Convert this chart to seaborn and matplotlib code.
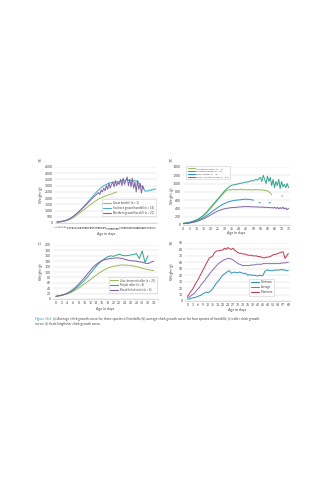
import numpy as np
import pandas as pd
import matplotlib
matplotlib.use("Agg")
import matplotlib.pyplot as plt
import seaborn as sns

sns.set_theme(style="white")
plt.rcParams['font.family'] = ['Lato', 'DejaVu Sans']

# ---------------- data ----------------
# (a) hornbills, days 1..77
a_days = list(range(1, 78))
a_great = [80, 90, 100, 110, 125, 140, 160, 185, 215, 250, 290, 340, 400, 460, 530, 610, 690, 770, 850, 930,
           1010, 1090, 1170, 1250, 1330, 1410, 1490, 1570, 1650, 1720, 1790, 1860, 1920, 1980, 2030, 2080, 2120,
           2160, 2200, 2240, 2270, 2300, 2340, 2380, 2420, 2450, 2490]
a_southern = [100, 110, 120, 135, 150, 170, 195, 225, 260, 300, 350, 410, 480, 560, 650, 740, 840, 940, 1040, 1150,
              1260, 1370, 1480, 1600, 1720, 1840, 1960, 2080, 2200, 2320, 2440, 2550, 2650, 2750, 2840, 2920, 2990,
              3050, 3100, 3150, 3200, 3230, 3250, 3280, 3300, 3290, 3320, 3300, 3360, 3340, 3420, 3460, 3400, 3450,
              3520, 3430, 3480, 3400, 3450, 3380, 3420, 3350, 3400, 3200, 3100, 2950, 2850, 2700, 2550, 2600, 2550,
              2650, 2600, 2700, 2650, 2750, 2700]
a_northern = [60, 70, 85, 100, 120, 145, 175, 210, 250, 300, 360, 420, 490, 570, 650, 740, 830, 920, 1010, 1110,
              1210, 1310, 1410, 1520, 1630, 1740, 1850, 1960, 2060, 2160, 2250, 2350, 2450, 2300, 2650, 2500, 2800,
              2600, 3000, 2700, 3200, 2800, 3100, 3300, 2900, 3400, 3000, 3300, 3100, 3500, 3000, 3600, 3100, 3400,
              3700, 3000, 3500, 2900, 3600, 2800, 3300, 2500, 3400, 2700, 3200, 2400, 3000, 2700]
a_labels = ["Great hornbill (n = 1)", "Southern ground hornbill (n = 14)", "Northern ground hornbill (n = 20)"]

# (b) four hornbill species, days 0..75 (nan = no data)
nan = np.nan
b_days = list(range(0, 76))
b_wreathed = [38, 42, 47, 52, 58, 65, 74, 84, 95, 108, 122, 140, 160, 182, 206, 234, 265, 300, 338, 378,
              418, 458, 498, 538, 578, 618, 658, 698, 738, 775, 805, 830, 845, 855, 840, 860, 850, 865, 845, 855,
              850, 870, 845, 860, 855, 850, 845, 860, 850, 840, 855, 845, 860, 850, 845, 855, 840, 850, 830, 840,
              820, 800, 770, 730, nan, nan, nan, nan, nan, nan, 700, 705, nan, nan, nan, nan]
b_wrinkled = [40, 45, 50, 55, 62, 70, 80, 90, 102, 115, 130, 150, 170, 195, 220, 250, 285, 320, 360, 400,
              440, 480, 520, 560, 600, 640, 680, 720, 760, 800, 840, 870, 900, 930, 950, 960, 970, 975, 985, 990,
              1000, 1005, 1015, 1020, 1030, 1040, 1035, 1050, 1060, 1070, 1060, 1090, 1100, 1080, 1120, 1150, 1050,
              1200, 1100, 1000, 1180, 1050, 1150, 950, 1100, 900, 1050, 950, 1100, 880, 1050, 920, 980, 900, 1000, 900]
b_black = [35, 38, 42, 46, 51, 57, 64, 72, 81, 92, 104, 118, 133, 150, 168, 188, 210, 233, 257, 282,
           307, 332, 357, 382, 406, 430, 452, 474, 494, 512, 528, 542, 555, 566, 576, 584, 591, 597, 601, 604,
           606, 610, 615, 620, 625, 622, 618, 620, 612, 605, 600, nan, nan, nan, 540, 535, nan, nan, nan, nan,
           nan, 530, 545, nan, nan, nan, nan, nan, nan, nan, nan, nan, nan, nan, nan, nan]
b_bushy = [30, 33, 36, 40, 44, 49, 55, 62, 70, 79, 89, 100, 112, 125, 140, 156, 173, 191, 210, 230,
           250, 270, 290, 308, 325, 340, 354, 366, 377, 387, 395, 402, 408, 413, 417, 420, 422, 425, 428, 432,
           435, 438, 440, 442, 445, 448, 440, 445, 438, 442, 435, 440, 432, 438, 430, 435, 428, 432, 425, 430,
           420, 425, 415, 420, 410, 430, 400, 425, 390, 420, 395, 430, 385, 410, 370, 400]
b_labels = ["Wreathed hornbill (n = 4)", "Wrinkled hornbill (n = 8)", "Black hornbill (n = 3)",
            "Bushy-crested hornbill (n = 10)"]

# (c) rollers, days 0..34
c_days = list(range(0, 35))
c_lilac = [10, 11, 13, 16, 19, 23, 28, 34, 41, 48, 56, 64, 72, 80, 88, 96, 103, 109, 114, 118,
           121, 123, 125, 126, 126, 125, 124, 122, 120, 117, 114, 111, 109, 107, 105]
c_purple = [10, 12, 14, 17, 21, 26, 32, 40, 49, 59, 70, 82, 95, 108, 121, 132, 142, 150, 156, 160,
            158, 162, 166, 162, 160, 161, 163, 165, 168, 150, 178, 135, 160, nan, nan]
c_broad = [10, 12, 14, 17, 22, 28, 36, 45, 56, 68, 80, 93, 106, 118, 128, 136, 142, 146, 148, 150,
           151, 152, 152, 150, 147, 144, 142, 141, 140, 138, 136, 133, 131, 136, 140]
c_labels = ["Lilac-breasted roller (n = 25)", "Purple roller (n = 4)", "Broad-billed roller (n = 8)"]

# (d) kingfisher, days 0..60
d_days = list(range(0, 61))
d_min = [3, 3, 4, 5, 5, 6, 7, 8, 9, 11, 12, 14, 13, 14, 16, 19, 23, 27, 30, 33, 37, 40, 42, 44, 46, 47, 43, 44,
         45, 44, 44, 45, 44, 43, 43, 42, 40, 41, 40, 40, 40, 39, 39, 40, 39, 40, 46, 48, 48, 47, 47, 47, 48, 48, 48,
         48, 49, 48, 48, 47, 47]
d_avg = [5, 6, 8, 10, 12, 15, 18, 21, 25, 28, 31, 35, 38, 42, 45, 48, 51, 54, 57, 59, 61, 63, 64, 65, 66, 66, 65,
         64, 62, 60, 58, 57, 56, 55, 55, 55, 55, 55, 56, 56, 56, 57, 57, 57, 57, 58, 58, 58, 58, 58, 58, 58, 58, 58,
         58, 58, 59, 59, 59, 60, 60]
d_max = [7, 11, 15, 18, 23, 28, 32, 37, 42, 47, 52, 57, 62, 67, 68, 70, 75, 77, 78, 78, 79, 79, 82, 80, 83, 81, 80,
         82, 79, 77, 75, 74, 74, 73, 73, 72, 71, 71, 71, 70, 70, 70, 69, 69, 68, 67, 67, 68, 68, 69, 70, 72, 72, 73,
         74, 75, 76, 76, 66, 70, 74]
d_labels = ["Minimum", "Average", "Maximum"]

# ---------------- helpers ----------------
def long_frame(days, series, labels):
    rows = []
    for vals, lab in zip(series, labels):
        seg = 0
        prev_nan = False
        for d, v in zip(days, vals):
            if v is None or (isinstance(v, float) and np.isnan(v)):
                prev_nan = True
                continue
            if prev_nan:
                seg += 1
                prev_nan = False
            rows.append({"day": d, "weight": v, "series": lab, "seg": f"{lab}_{seg}"})
    return pd.DataFrame(rows)

GRID = "#d9d9d9"
TXT = "#404040"
FS = 2.4

def style_ax(ax, ymax, ystep):
    ax.set_ylim(0, ymax)
    ax.set_yticks(np.arange(0, ymax + 1, ystep))
    ax.yaxis.grid(True, color=GRID, linewidth=0.35)
    ax.xaxis.grid(False)
    for s in ["left", "right", "top"]:
        ax.spines[s].set_visible(False)
    ax.spines["bottom"].set_color("#bfbfbf")
    ax.spines["bottom"].set_linewidth(0.4)
    ax.tick_params(axis="y", labelsize=FS, colors=TXT, length=0, pad=1.5)
    ax.tick_params(axis="x", labelsize=FS, colors=TXT, length=1, width=0.3, pad=0.8, color="#bfbfbf")
    ax.set_xlabel("")
    ax.set_ylabel("")

def draw(ax, days, series, labels, colors, lw=0.7):
    df = long_frame(days, series, labels)
    sns.lineplot(data=df, x="day", y="weight", hue="series", units="seg", estimator=None,
                 hue_order=labels, palette=dict(zip(labels, colors)), linewidth=lw, ax=ax, legend=False)

def add_legend(ax, labels, colors, fs=2.0, **kw):
    from matplotlib.lines import Line2D
    handles = [Line2D([0], [0], color=c, lw=0.8) for c in colors]
    leg = ax.legend(handles, labels, fontsize=fs, frameon=True, fancybox=False, handlelength=3.0,
                    handletextpad=0.6, borderpad=0.5, labelspacing=0.35, **kw)
    leg.get_frame().set_edgecolor("#bfbfbf")
    leg.get_frame().set_linewidth(0.4)
    for t in leg.get_texts():
        t.set_color(TXT)

W, H = 336, 480
fig = plt.figure(figsize=(W / 100, H / 100), dpi=100)
fig.patch.set_facecolor("white")

def axes_px(l, r, t, b):
    return fig.add_axes([l / W, 1 - b / H, (r - l) / W, (b - t) / H])

# ---- (a)
ax = axes_px(55, 157, 167, 223)
cols_a = ["#9bbb59", "#4bacc6", "#8064a2"]
draw(ax, a_days, [a_great, a_southern, a_northern], a_labels, cols_a)
style_ax(ax, 4500, 500)
ax.set_xlim(-0.5, 78)
ax.set_xticks(a_days[::2])
ax.set_xticklabels([str(d) for d in a_days[::2]], rotation=90, fontsize=1.9)
add_legend(ax, a_labels, cols_a, fs=2.0, loc="lower right", bbox_to_anchor=(1.0, 0.1))

# ---- (b)
ax = axes_px(183, 290, 167, 225)
cols_b = ["#9bbb59", "#2ea58c", "#2a93c6", "#8064a2"]
draw(ax, b_days, [b_wreathed, b_wrinkled, b_black, b_bushy], b_labels, cols_b)
style_ax(ax, 1400, 200)
ax.set_xlim(0, 76)
ax.set_xticks(range(0, 76, 5))
add_legend(ax, b_labels, cols_b, fs=1.7, loc="upper left", bbox_to_anchor=(0.02, 1.03))

# ---- (c)
ax = axes_px(53, 158, 245, 299)
cols_c = ["#9bbb59", "#2ea58c", "#7a5ea8"]
draw(ax, c_days, [c_lilac, c_purple, c_broad], c_labels, cols_c)
style_ax(ax, 200, 20)
ax.set_xlim(-1, 35.5)
ax.set_xticks(range(0, 35, 2))
add_legend(ax, c_labels, cols_c, fs=2.0, loc="lower right", bbox_to_anchor=(1.0, 0.08))

# ---- (d)
ax = axes_px(185, 290, 243, 301)
cols_d = ["#2b91b5", "#8a6bb0", "#c0394f"]
draw(ax, d_days, [d_min, d_avg, d_max], d_labels, cols_d)
style_ax(ax, 90, 10)
ax.set_xlim(-1.5, 61)
ax.set_xticks(range(0, 61, 3))
add_legend(ax, d_labels, cols_d, fs=2.0, loc="lower left", bbox_to_anchor=(0.6, 0.07))

# ---- texts
def ftext(x, y, s, **kw):
    fig.text(x / W, 1 - y / H, s, **kw)

for x, y, s in [(38, 160, "(a)"), (169, 160, "(b)"), (38, 243, "(c)"), (169, 243, "(d)")]:
    ftext(x, y, s, fontsize=2.6, color=TXT, va="center", ha="left")
for x, y in [(41, 195), (172, 196), (41, 272), (172, 272)]:
    ftext(x, y, "Weight (g)", fontsize=2.6, color=TXT, rotation=90, va="center", ha="center")
for x, y in [(106, 234), (236, 233), (105, 309), (237, 310)]:
    ftext(x, y, "Age in days", fontsize=2.6, color=TXT, va="center", ha="center")

ftext(35, 319, "Figure 16.6", fontsize=2.3, color="#2e8fc0", va="center", ha="left")
ftext(53, 319, "(a) Average chick growth curve for three species of hornbills; (b) average chick growth curve "
               "for four species of hornbills; (c) roller chick growth", fontsize=2.3, color=TXT, va="center", ha="left")
ftext(35, 324, "curve; (d) Scale kingfisher chick growth curve.", fontsize=2.3, color=TXT, va="center", ha="left")

fig.savefig("out.png", dpi=100, facecolor="white")
